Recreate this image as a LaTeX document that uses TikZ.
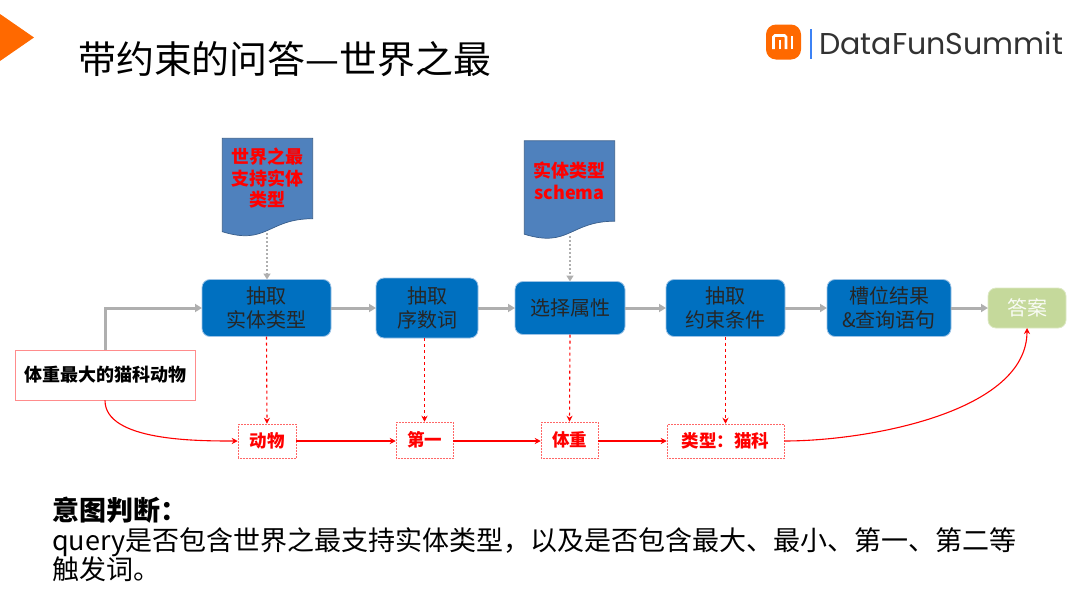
\documentclass[tikz,border=0pt]{standalone}
\usepackage{fontspec}
\setmainfont{Noto Sans CJK SC}
\newfontfamily\logofont{Poppins}
\usetikzlibrary{arrows.meta,positioning,calc}
\definecolor{SlideOrange}{RGB}{255,105,0}
\definecolor{StepBlue}{RGB}{0,112,192}
\definecolor{StepEdge}{RGB}{157,195,230}
\definecolor{DocBlue}{RGB}{79,129,189}
\definecolor{DocEdge}{RGB}{56,93,138}
\definecolor{AnswerGreen}{RGB}{197,217,155}
\definecolor{FlowGray}{RGB}{175,175,175}
\definecolor{LogoBar}{RGB}{60,130,245}
\definecolor{LogoText}{RGB}{50,50,50}
\newcommand{\docshape}[1]{%
  \path[fill=DocBlue, draw=DocEdge, line width=0.7pt]
    (#1.north west) -- (#1.north east) -- (#1.south east)
    .. controls ($(#1.south east)+(-45,0)$) and ($(#1.south west)+(45,27)$) .. ($(#1.south west)+(0,13)$)
    -- cycle;}

\begin{document}
\begin{tikzpicture}[
  x=1pt, y=-1pt,
  stepbox/.style={draw=StepEdge, fill=StepBlue, rounded corners=8pt, line width=0.8pt, align=center,
    text=black!85, inner sep=0pt, outer sep=0pt, font=\fontsize{20}{24}\selectfont},
  docbox/.style={minimum width=90pt, minimum height=80pt, inner sep=0pt, align=center},
  doctext/.style={text=red, align=center, font=\fontsize{18}{21.5}\bfseries\selectfont},
  tagbox/.style={draw=red!60, densely dotted, line width=0.5pt, fill=white, text=red, inner sep=0pt,
    font=\fontsize{17.5}{21}\bfseries\selectfont},
  flow/.style={-{Triangle[length=7pt,width=8pt]}, line width=3pt, FlowGray},
  feed/.style={-{Triangle[length=6pt,width=7pt]}, line width=2pt, FlowGray, dash pattern=on 2pt off 2pt},
  pick/.style={-{Stealth[length=6pt,width=6pt]}, line width=1.1pt, red, dashed},
  chain/.style={-{Stealth[length=6pt,width=6pt]}, line width=1.1pt, red},
  node distance=42pt
]
  \useasboundingbox (0,0) rectangle (1080,608);

  % Header
  \fill[SlideOrange] (0,14) -- (34,37.5) -- (0,61) -- cycle;
  \node[anchor=west, inner sep=0pt, font=\fontsize{37.9}{45}\selectfont] (title) at (78,59) {带约束的问答—世界之最};
  \node[fill=SlideOrange, rounded corners=10pt, minimum size=35pt, inner sep=0pt] (logo) at (783.5,42) {};
  \draw[white, line width=2.6pt, rounded corners=1.5pt] ([shift={(-10,7)}]logo.center) -- ([shift={(-10,-6.5)}]logo.center)
    -- ([shift={(2.5,-6.5)}]logo.center) -- ([shift={(2.5,7)}]logo.center);
  \draw[white, line width=2.4pt] ([shift={(-3.8,7)}]logo.center) -- ([shift={(-3.8,-2)}]logo.center);
  \draw[white, line width=2.8pt] ([shift={(8.5,7)}]logo.center) -- ([shift={(8.5,-6.5)}]logo.center);
  \draw[LogoBar, line width=1.1pt] (811,29) -- (811,59);
  \node[anchor=west, inner sep=0pt, text=LogoText, font=\logofont\fontsize{30.1}{34}\selectfont] (brand) at (819,43) {DataFunSummit};

  % Main steps
  \node[stepbox, minimum width=129pt, minimum height=57pt] (extype) at (266.5,308) {抽取\\实体类型};
  \node[stepbox, minimum width=102pt, minimum height=60pt, right=45pt of extype] (exord) {抽取\\序数词};
  \node[stepbox, minimum width=110pt, minimum height=53pt, right=37pt of exord] (selattr) {选择属性};
  \node[stepbox, minimum width=119pt, minimum height=57pt, right=41pt of selattr] (excons) {抽取\\约束条件};
  \node[stepbox, minimum width=124pt, minimum height=57pt, right=42pt of excons] (slots) {槽位结果\\\&查询语句};
  \node[stepbox, draw=AnswerGreen!60!white, fill=AnswerGreen, text=white!90!AnswerGreen, minimum width=78pt,
    minimum height=40pt, right=37pt of slots] (answer) {答案};

  % Question
  \node[draw=red!45, fill=white, line width=0.8pt, minimum width=180pt, minimum height=50pt, inner sep=0pt,
    font=\fontsize{18}{22}\bfseries\selectfont] (query) at (105,375) {体重最大的猫科动物};

  % Resources
  \node[docbox] (doca) at (267.5,178.5) {};
  \docshape{doca}
  \node[doctext] (docatext) at (doca.center) {世界之最\\支持实体\\类型};
  \node[docbox] (docb) at (569.5,181) {};
  \docshape{docb}
  \node[doctext] (docbtext) at (docb.center) {实体类型\\schema};

  % Slot values
  \node[tagbox, minimum width=58pt, minimum height=34pt] (animal) at (267,441) {动物};
  \node[tagbox, minimum width=57pt, minimum height=36pt] (first) at (424.5,440) {第一};
  \node[tagbox, minimum width=57pt, minimum height=36pt] (weight) at (569.5,440) {体重};
  \node[tagbox, minimum width=117pt, minimum height=34pt] (catkind) at (725.5,441) {类型：猫科};

  \draw[flow] (query.north) |- (extype.west);
  \draw[flow] (extype) -- (exord);
  \draw[flow] (exord) -- (selattr);
  \draw[flow] (selattr) -- (excons);
  \draw[flow] (excons) -- (slots);
  \draw[flow] (slots) -- (answer);

  \draw[feed] (267,233) -- (extype.north -| 267,0);
  \draw[feed] (570,236) -- (selattr.north -| 570,0);

  \draw[pick] (extype.south) -- (animal.north);
  \draw[pick] (exord.south -| first.north) -- (first.north);
  \draw[pick] (selattr.south) -- (weight.north);
  \draw[pick] (excons.south) -- (catkind.north);

  \draw[chain] (query.south) to[out=-90, in=180, looseness=0.75] (animal.west);
  \draw[chain] (animal.east) -- (first.west |- animal.east);
  \draw[chain] (first.east |- animal.east) -- (weight.west |- animal.east);
  \draw[chain] (weight.east |- animal.east) -- (catkind.west);
  \draw[chain] (catkind.east) to[out=0, in=-90, looseness=0.8] (answer.south);

  % Note at the bottom
  \node[anchor=north west, inner sep=0pt, align=left, font=\fontsize{27}{29.5}\selectfont] (note) at (52,497)
    {\textbf{意图判断：}\\query是否包含世界之最支持实体类型，以及是否包含最大、最小、第一、第二等\\触发词。};
\end{tikzpicture}
\end{document}
